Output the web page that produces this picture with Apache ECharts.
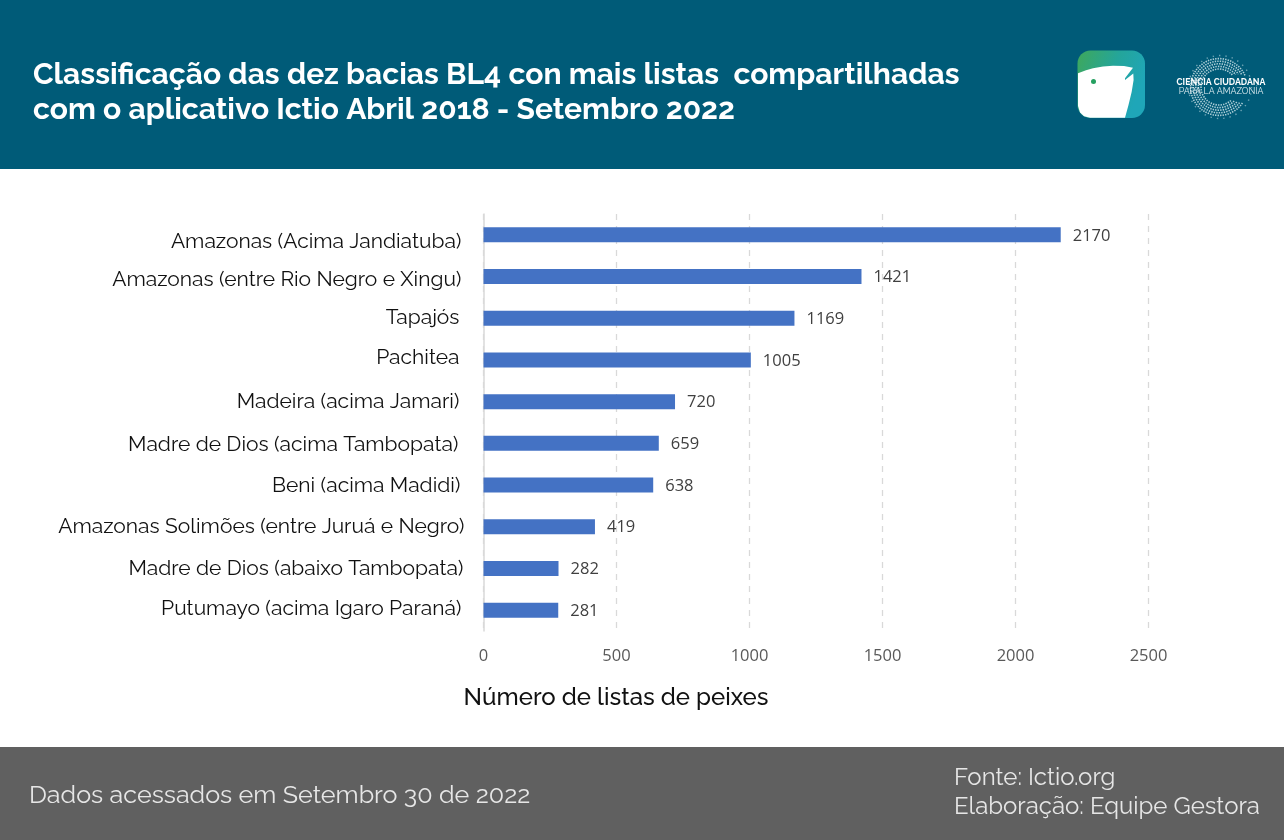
<!DOCTYPE html>
<html><head><meta charset="utf-8">
<style>html,body{margin:0;padding:0;background:#fff}#c{width:1284px;height:840px}</style>
<script src="https://cdn.jsdelivr.net/npm/echarts@6/dist/echarts.min.js"></script>
</head><body><div id="c"></div>
<script>
const categories = ['Amazonas (Acima Jandiatuba)','Amazonas (entre Rio Negro e Xingu)','Tapajós','Pachitea','Madeira (acima Jamari)','Madre de Dios (acima Tambopata)','Beni (acima Madidi)','Amazonas Solimões (entre Juruá e Negro)','Madre de Dios (abaixo Tambopata)','Putumayo (acima Igaro Paraná)'];
const values = [2170,1421,1169,1005,720,659,638,419,282,281];
const titleLines = 'Classificação das dez bacias BL4 con mais listas  compartilhadas\ncom o aplicativo Ictio Abril 2018 - Setembro 2022';
const axisName = 'Número de listas de peixes';
const footLeft = 'Dados acessados em Setembro 30 de 2022';
const footRight = ['Fonte: Ictio.org','Elaboração: Equipe Gestora'];
const UI = 'Raleway, Inter, "Noto Sans", sans-serif';
const TICK = '"Open Sans", sans-serif';
const labelShiftY = [7,3,-1,-2,0,1,1,0,0,-1];
const labelPadRight = [6,6,8,8,8,9,7,3,4,6];
const chart = echarts.init(document.getElementById('c'), null, {renderer:'canvas'});

const ringArcs = [];
[[18,1.6,0.85,5.55],[20.6,1.6,0.75,5.65],[23.2,1.6,0.7,5.7],[25.8,1.6,0.65,5.8],[28.4,1.6,0.6,5.9]].forEach(([r,w,a0,a1])=>{
  ringArcs.push({type:'arc',z:5,shape:{cx:1219,cy:87,r:r,startAngle:a0,endAngle:a1,clockwise:true},
    style:{fill:'none',stroke:'rgba(220,238,242,0.78)',lineWidth:w,lineDash:[1.4,1.1]}});
});
ringArcs.push({type:'arc',z:5,shape:{cx:1220,cy:87,r:31.5,startAngle:0,endAngle:6.28,clockwise:true},
  style:{fill:'none',stroke:'rgba(215,235,240,0.5)',lineWidth:1.4,lineDash:[1.4,5]}});
const fishOutline = [[1078,73.3],[1086,70.3],[1093,68.3],[1103,66.6],[1113,65.7],[1124,66],[1133,67.7],[1129,73],[1125,78.3],[1125,80],[1133.3,73.6],[1133.6,80],[1131.7,91.7],[1128.5,105],[1125,117.8],[1090,117.8],[1084,116.3],[1080,112.5],[1078,106]];

const labelRich = {};
categories.forEach((c,i)=>{
  const d = labelShiftY[i];
  labelRich['n'+i] = {color:'#111',fontFamily:UI,fontSize:21,
    padding:[d>0?2*d:0,labelPadRight[i],d<0?-2*d:0,0]};
});

chart.setOption({
  animation:false,
  textStyle:{fontFamily:UI},
  grid:{left:483.5,right:135.5,top:214,bottom:209,containLabel:false},
  xAxis:{type:'value',min:0,max:2500,interval:500,
    axisLine:{show:false},axisTick:{show:false},
    axisLabel:{margin:17,color:'#595959',fontFamily:TICK,fontSize:16.5,formatter:v=>String(v)},
    splitLine:{show:true,lineStyle:{color:'#d9d9d9',type:[6,6],width:1.3}},
    name:axisName,nameLocation:'middle',nameGap:55,
    nameTextStyle:{color:'#111',fontFamily:UI,fontSize:24,fontWeight:500,padding:[0,400,0,0]}},
  yAxis:{type:'category',inverse:true,data:categories,
    axisLine:{show:true,lineStyle:{color:'#d9d9d9',width:1.5}},axisTick:{show:false},
    axisLabel:{margin:16,interval:0,formatter:(v,i)=>'{n'+i+'|'+v+'}',rich:labelRich}},
  series:[{type:'bar',data:values,barWidth:15,itemStyle:{color:'#4472C4'},
    label:{show:true,position:'right',distance:12,offset:[0,1],color:'#404040',fontFamily:TICK,fontSize:16.5}}],
  graphic:[
    {type:'rect',z:0,silent:true,shape:{x:0,y:0,width:1284,height:169},style:{fill:'#005B78'}},
    {type:'rect',z:0,silent:true,shape:{x:0,y:747,width:1284,height:93},style:{fill:'#606060'}},
    {type:'text',z:5,x:33,y:57,style:{text:titleLines,fill:'#fff',font:'700 30px '+UI,lineHeight:35.5}},
    {type:'text',z:5,x:29,y:783,style:{text:footLeft,fill:'#e6e6e6',font:'400 25.1px '+UI}},
    {type:'text',z:5,x:954,y:763,style:{text:footRight.join('\n'),fill:'#e6e6e6',font:'400 24px '+UI,lineHeight:29}},
    {type:'rect',z:4,shape:{x:1077.5,y:50.5,width:67.5,height:67.5,r:13},
      style:{fill:new echarts.graphic.LinearGradient(0,0,1,0.4,[{offset:0,color:'#3FA85A'},{offset:0.55,color:'#24A59A'},{offset:1,color:'#1FA6B8'}])}},
    {type:'polygon',z:5,shape:{points:fishOutline},style:{fill:'#fff'}},
    {type:'circle',z:6,shape:{cx:1093.5,cy:81.5,r:2.5},style:{fill:'#25A060'}},
    ...ringArcs,
    {type:'text',z:7,x:1221,y:77.5,style:{text:'CIENCIA CIUDADANA',fill:'#fff',font:'700 8.8px '+UI,align:'center',backgroundColor:'transparent'}},
    {type:'text',z:7,x:1221,y:86.5,style:{text:'PARA LA AMAZONÍA',fill:'#e0eef2',font:'400 8.8px '+UI,align:'center'}}
  ]
});
</script></body></html>
